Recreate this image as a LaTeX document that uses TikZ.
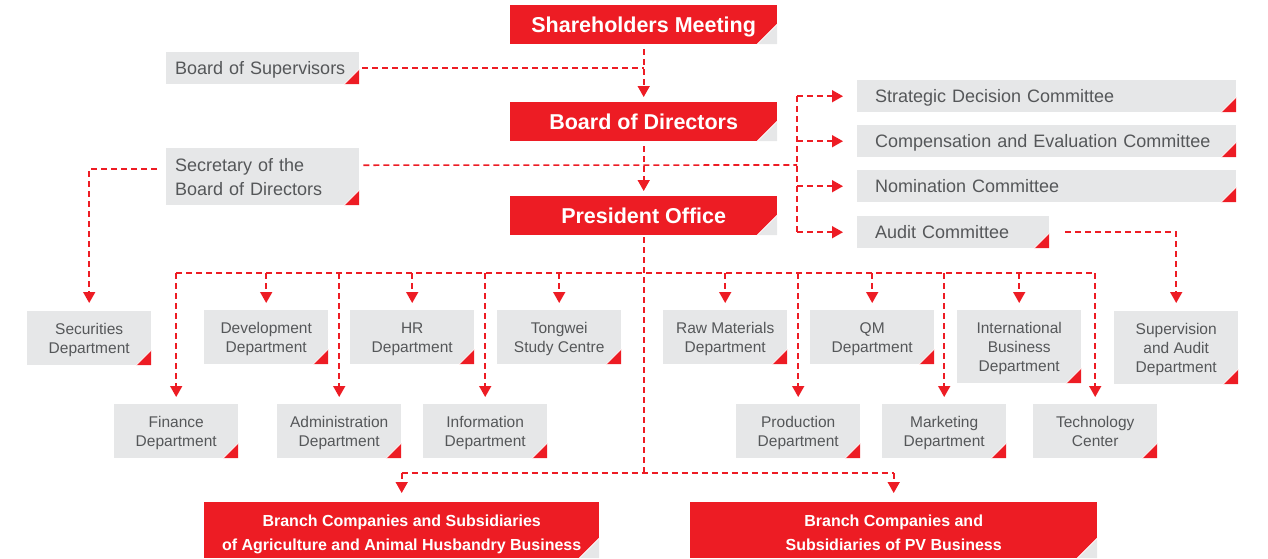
\documentclass[tikz,border=0pt]{standalone}
\usepackage{fontspec}
\setmainfont{Liberation Sans}
\usepackage{xcolor}
\usetikzlibrary{arrows.meta}

\definecolor{twred}{HTML}{ED1C24}
\definecolor{twgray}{HTML}{E6E7E8}
\definecolor{twtext}{HTML}{555759}

\tikzset{
  redcorner/.style={path picture={
    \fill[twgray] (path picture bounding box.south east) -- ++(-20pt,0) -- ++(20pt,20pt) -- cycle;
    \draw[white, line width=0.8pt] (path picture bounding box.south east) ++(-20pt,0) -- ++(20pt,20pt);}},
  graycorner/.style={path picture={
    \fill[twred] (path picture bounding box.south east) -- ++(-15pt,0) -- ++(15pt,15pt) -- cycle;
    \draw[white, line width=0.8pt] (path picture bounding box.south east) ++(-15pt,0) -- ++(15pt,15pt);}},
  headbox/.style={fill=twred, text=white, anchor=north west, inner sep=0pt,
    minimum width=267pt, minimum height=39pt, align=center, text depth=0pt,
    font=\bfseries\fontsize{21.5}{24}\selectfont, redcorner},
  branchbox/.style={fill=twred, text=white, anchor=north west, inner sep=0pt,
    minimum height=56pt, align=center, text height=40pt, text depth=0pt,
    font=\bfseries\fontsize{16}{24}\selectfont, redcorner},
  sidebox/.style={fill=twgray, text=twtext, anchor=north west, inner ysep=0pt,
    align=left, font=\fontsize{18}{24}\selectfont, graycorner},
  oneline/.style={text depth=0pt},
  unitbox/.style={fill=twgray, text=twtext, anchor=north west, inner sep=0pt,
    minimum width=124pt, minimum height=54pt, align=center, text depth=0pt,
    font=\fontsize{15.5}{19}\selectfont, graycorner},
  link/.style={draw=twred, line width=1.6pt, dash pattern=on 6pt off 4pt},
  arrowed/.style={-{Triangle[width=12pt,length=11pt]}, shorten >=7pt}
}

\begin{document}
\begin{tikzpicture}[x=1pt,y=-1pt]
\useasboundingbox (0,0) rectangle (1268,558);

% governance chain
\node[headbox] (shareholders) at (510,5) {Shareholders Meeting};
\node[headbox] (board) at (510,102) {Board of Directors};
\node[headbox] (president) at (510,196) {President Office};

\node[sidebox, oneline, inner xsep=9pt, text width=175pt, minimum height=32pt] (supervisors) at (166,52) {Board of Supervisors};
\node[sidebox, inner xsep=9pt, text width=175pt, minimum height=57pt] (secretary) at (166,148) {Secretary of the\\Board of Directors};

% committees
\node[sidebox, oneline, inner xsep=18pt, text width=343pt, minimum height=32pt] (strategic) at (857,80) {Strategic Decision Committee};
\node[sidebox, oneline, inner xsep=18pt, text width=343pt, minimum height=32pt] (compensation) at (857,125) {Compensation and Evaluation Committee};
\node[sidebox, oneline, inner xsep=18pt, text width=343pt, minimum height=32pt] (nomination) at (857,170) {Nomination Committee};
\node[sidebox, oneline, inner xsep=18pt, text width=156pt, minimum height=32pt] (audit) at (857,216) {Audit Committee};

% departments
\node[unitbox] (securities) at (27,311) {Securities\\Department};
\node[unitbox] (development) at (204,310) {Development\\Department};
\node[unitbox] (hr) at (350,310) {HR\\Department};
\node[unitbox] (tongwei) at (497,310) {Tongwei\\Study Centre};
\node[unitbox] (rawmat) at (663,310) {Raw Materials\\Department};
\node[unitbox] (qm) at (810,310) {QM\\Department};
\node[unitbox, minimum height=73pt] (intl) at (957,310) {International\\Business\\Department};
\node[unitbox, minimum height=73pt] (supaudit) at (1114,311) {Supervision\\and Audit\\Department};

\node[unitbox] (finance) at (114,404) {Finance\\Department};
\node[unitbox] (admin) at (277,404) {Administration\\Department};
\node[unitbox] (info) at (423,404) {Information\\Department};
\node[unitbox] (production) at (736,404) {Production\\Department};
\node[unitbox] (marketing) at (882,404) {Marketing\\Department};
\node[unitbox] (tech) at (1033,404) {Technology\\Center};

% business units
\node[branchbox, minimum width=395pt] (agri) at (204,502) {Branch Companies and Subsidiaries\\of Agriculture and Animal Husbandry Business};
\node[branchbox, minimum width=407pt] (pv) at (690,502) {Branch Companies and\\Subsidiaries of PV Business};

% connectors
\coordinate (cbus) at (797,165);
\coordinate (deptbus) at (0,273);
\coordinate (branchbus) at (0,473);

\draw[link, arrowed, shorten <=5pt, shorten >=5pt] (shareholders) -- (board);
\draw[link, shorten <=3pt] (supervisors.east) -- (supervisors.east -| shareholders.south);
\draw[link, arrowed, shorten <=5pt, shorten >=5pt] (board) -- (president);

\draw[link, shorten <=4pt] ([yshift=11.5pt]secretary.east) -- (cbus);
\draw[link] (strategic.west -| cbus) -- (audit.west -| cbus);
\foreach \c in {strategic,compensation,nomination,audit}
  \draw[link, arrowed, shorten >=14pt] (\c.west -| cbus) -- (\c.west);
\draw[link, arrowed, shorten <=16pt, shorten >=8pt] (audit.east) -| (supaudit.north);
\draw[link, arrowed, shorten <=9pt, shorten >=8pt] ([yshift=7.5pt]secretary.west) -| (securities.north);

\draw[link, shorten <=2pt] (president.south) -- (president.south |- branchbus);
\draw[link] (finance.north |- deptbus) -- (tech.north |- deptbus);
\foreach \d in {finance,development,admin,hr,info,tongwei,rawmat,production,qm,marketing,intl,tech}
  \draw[link, arrowed] (\d.north |- deptbus) -- (\d.north);

\draw[link] (agri.north |- branchbus) -- (pv.north |- branchbus);
\foreach \b in {agri,pv}
  \draw[link, arrowed, shorten >=9pt] (\b.north |- branchbus) -- (\b.north);
\end{tikzpicture}
\end{document}
